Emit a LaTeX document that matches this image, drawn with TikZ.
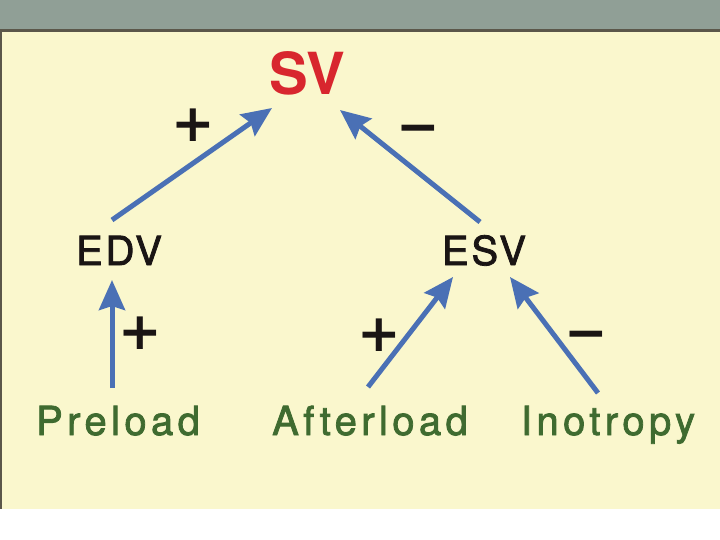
\documentclass[tikz,border=0pt]{standalone}
\usepackage{fontspec}
\setmainfont{TeX Gyre Heros}
\newfontfamily\spacedfont{TeX Gyre Heros}[LetterSpace=11, FakeBold=2]
\newfontfamily\volfont{TeX Gyre Heros}[LetterSpace=7, FakeBold=2]
\newfontfamily\symfont{DejaVu Sans}
\usetikzlibrary{arrows.meta}
\definecolor{barGray}{HTML}{909F96}
\definecolor{lineDark}{HTML}{5B574A}
\definecolor{paper}{HTML}{FAF7CD}
\definecolor{arrowBlue}{HTML}{4A70B5}
\definecolor{svRed}{HTML}{D8262E}
\definecolor{labelGreen}{HTML}{3F6B30}
\definecolor{inkBlack}{HTML}{1A1514}
\tikzset{
  vol/.style={anchor=base, inner sep=0pt, text=inkBlack, font=\volfont\fontsize{40}{40}\selectfont},
  src/.style={anchor=base, inner sep=0pt, text=labelGreen, font=\spacedfont\fontsize{40}{40}\selectfont},
  sign/.style={anchor=center, inner sep=0pt, text=inkBlack, font=\symfont\bfseries\fontsize{52}{52}\selectfont},
  conn/.style={draw=arrowBlue, line width=5pt, -{Stealth[length=30pt, width=26pt, inset=4pt]}}
}
\begin{document}
\begin{tikzpicture}[x=1pt, y=-1pt]
\useasboundingbox (0,0) rectangle (720,540);
\fill[white] (0,0) rectangle (720,540);
\fill[barGray] (0,0) rectangle (720,29);
\fill[lineDark] (0,29) rectangle (720,32);
\fill[paper] (0,32) rectangle (720,509);
\fill[lineDark] (0,29) rectangle (2,509);

\node[anchor=base, inner sep=0pt, text=svRed, font=\bfseries\fontsize{58}{58}\selectfont] (sv) at (307,95) {SV};
\node[vol] (edv) at (119,265) {EDV};
\node[vol] (esv) at (484,265) {ESV};
\node[src] (preload) at (118,435) {Preload};
\node[src] (afterload) at (370,435) {Afterload};
\node[src] (inotropy) at (608,435) {Inotropy};

\node[sign] (p1) at (193,125) {+};
\node[sign] (m1) at (418,128) {\vphantom{+}−};
\node[sign] (p2) at (140,333) {+};
\node[sign] (p3) at (379,335) {+};
\node[sign] (m2) at (586,334) {\vphantom{+}−};

\draw[conn] ([shift={(-7,-45)}]edv.base) -- ([shift={(-35,13)}]sv.base);
\draw[conn] ([shift={(-4,-43)}]esv.base) -- ([shift={(33,15)}]sv.base);
\draw[conn] ([shift={(-6,-47)}]preload.base) -- ([shift={(-7,15)}]edv.base);
\draw[conn] ([shift={(-2,-48)}]afterload.base) -- ([shift={(-31,12)}]esv.base);
\draw[conn] ([shift={(-10,-42)}]inotropy.base) -- ([shift={(26,12)}]esv.base);
\end{tikzpicture}
\end{document}
